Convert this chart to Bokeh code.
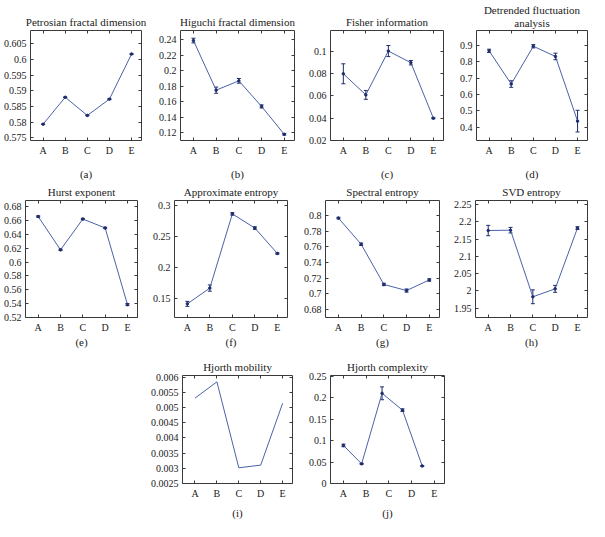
from bokeh.plotting import figure
from bokeh.models import (Range1d, FixedTicker, LinearAxis, CustomJSTickFormatter,
                          Whisker, TeeHead, ColumnDataSource, Spacer)
from bokeh.layouts import row, column
from bokeh.embed import file_html
from bokeh.resources import INLINE

categories = ["A", "B", "C", "D", "E"]
positions = [1, 2, 3, 4, 5]

petrosian = [0.5793, 0.5879, 0.5821, 0.5873, 0.6017]
petrosian_err = [0.0001, 0.0001, 0.0001, 0.0001, 0.0001]
petrosian_ticks = [0.575, 0.58, 0.585, 0.59, 0.595, 0.6, 0.605]

higuchi = [0.239, 0.175, 0.187, 0.154, 0.118]
higuchi_err = [0.003, 0.004, 0.003, 0.002, 0.001]
higuchi_ticks = [0.12, 0.14, 0.16, 0.18, 0.2, 0.22, 0.24]

fisher = [0.080, 0.061, 0.1005, 0.090, 0.040]
fisher_err = [0.009, 0.004, 0.005, 0.002, 0.0005]
fisher_ticks = [0.02, 0.04, 0.06, 0.08, 0.1]

dfa = [0.866, 0.664, 0.894, 0.832, 0.438]
dfa_err = [0.01, 0.02, 0.01, 0.02, 0.066]
dfa_ticks = [0.4, 0.5, 0.6, 0.7, 0.8, 0.9]

hurst = [0.6658, 0.6177, 0.6622, 0.6493, 0.5386]
hurst_err = [0.001, 0.001, 0.001, 0.001, 0.0015]
hurst_ticks = [0.52, 0.54, 0.56, 0.58, 0.6, 0.62, 0.64, 0.66, 0.68]

apen = [0.1419, 0.1673, 0.2865, 0.2637, 0.2229]
apen_err = [0.004, 0.005, 0.002, 0.002, 0.001]
apen_ticks = [0.15, 0.2, 0.25, 0.3]

spectral = [0.7966, 0.7633, 0.7121, 0.7043, 0.7178]
spectral_err = [0.001, 0.0015, 0.0015, 0.002, 0.0015]
spectral_ticks = [0.68, 0.7, 0.72, 0.74, 0.76, 0.78, 0.8]

svd = [2.175, 2.176, 1.983, 2.006, 2.182]
svd_err = [0.015, 0.008, 0.02, 0.01, 0.004]
svd_ticks = [1.95, 2.0, 2.05, 2.1, 2.15, 2.2, 2.25]

mobility = [0.00532, 0.00586, 0.00301, 0.00310, 0.00515]
mobility_ticks = [0.0025, 0.003, 0.0035, 0.004, 0.0045, 0.005, 0.0055, 0.006]

complexity = [0.0888, 0.0458, 0.2106, 0.1712, 0.0408]
complexity_err = [0.003, 0.001, 0.015, 0.003, 0.0005]
complexity_x = [1, 1.8, 2.7, 3.6, 4.47]
complexity_ticks = [0, 0.05, 0.1, 0.15, 0.2, 0.25]

FONT = "Liberation Serif"
LINE = "#4a62a8"
DARK = "#1f2c6b"
FRAME = "#3a3a3a"
TEXT = "#1a1a1a"

EMPTY = CustomJSTickFormatter(code="return '';")


def hidden_axis(ticks, label=None, standoff=3):
    ax = LinearAxis(ticker=FixedTicker(ticks=ticks), formatter=EMPTY,
                    major_label_text_font_size="10px",
                    major_label_standoff=0, axis_line_color=None,
                    major_tick_in=3, major_tick_out=0, major_tick_line_color=FRAME,
                    minor_tick_line_color=None)
    if label is not None:
        ax.axis_label = label
        ax.axis_label_standoff = standoff
        ax.axis_label_text_font = FONT
        ax.axis_label_text_font_size = "11px"
        ax.axis_label_text_font_style = "normal"
        ax.axis_label_text_color = TEXT
    return ax


def panel(titles, xs, ys, errs, yticks, ylo, yhi, tag, mb, fw, fh, lab_standoff):
    l, r, t, b = mb
    p = figure(width=l + fw + r, height=t + fh + b,
               min_border_left=l, min_border_right=r, min_border_top=t, min_border_bottom=b,
               x_range=Range1d(0.43, 5.45), y_range=Range1d(ylo, yhi),
               output_backend="svg", toolbar_location=None)
    p.grid.visible = False
    p.outline_line_color = FRAME
    p.outline_line_width = 1
    p.background_fill_color = "white"
    p.border_fill_color = "white"

    xa = p.xaxis[0]
    xa.ticker = FixedTicker(ticks=positions)
    xa.major_label_overrides = {i + 1: c for i, c in enumerate(categories)}
    xa.axis_label = tag
    xa.axis_label_standoff = lab_standoff
    xa.axis_label_text_font = FONT
    xa.axis_label_text_font_size = "11px"
    xa.axis_label_text_font_style = "normal"
    xa.axis_label_text_color = TEXT

    ya = p.yaxis[0]
    ya.ticker = FixedTicker(ticks=yticks)
    ya.formatter = CustomJSTickFormatter(code="return String(tick);")

    for ax in (xa, ya):
        ax.axis_line_color = None
        ax.major_tick_in = 3
        ax.major_tick_out = 0
        ax.major_tick_line_color = FRAME
        ax.minor_tick_line_color = None
        ax.major_label_text_font = FONT
        ax.major_label_text_font_size = "10px"
        ax.major_label_text_color = TEXT
        ax.major_label_standoff = 4

    p.add_layout(hidden_axis(yticks), "right")
    # title lines as labels of top axes (nearest line first)
    lines = list(reversed(titles))
    p.add_layout(hidden_axis(positions, lines[0], 3 if len(lines) == 1 else 2), "above")
    for extra in lines[1:]:
        p.add_layout(hidden_axis([], extra, -2), "above")

    p.line(xs, ys, line_color=LINE, line_width=1)
    if errs is not None:
        src = ColumnDataSource(dict(x=xs, y=ys,
                                    upper=[v + e for v, e in zip(ys, errs)],
                                    lower=[v - e for v, e in zip(ys, errs)]))
        p.add_layout(Whisker(base="x", upper="upper", lower="lower", source=src,
                             line_color=DARK, line_width=1,
                             upper_head=TeeHead(size=4, line_color=DARK, line_width=1),
                             lower_head=TeeHead(size=4, line_color=DARK, line_width=1)))
        p.scatter("x", "y", source=src, size=2.5, color=DARK)
    return p


fa = panel(["Petrosian fractal dimension"], positions, petrosian, petrosian_err, petrosian_ticks,
           0.5741, 0.6092, "(a)", (28, 6, 25, 39), 113, 118, 9)
fb = panel(["Higuchi fractal dimension"], positions, higuchi, higuchi_err, higuchi_ticks,
           0.110, 0.252, "(b)", (33, 3, 25, 39), 114, 118, 9)
fc = panel(["Fisher information"], positions, fisher, fisher_err, fisher_ticks,
           0.0199, 0.119, "(c)", (33, 4, 25, 39), 113, 118, 9)
fd = panel(["Detrended fluctuation", "analysis"], positions, dfa, dfa_err, dfa_ticks,
           0.32, 0.99, "(d)", (29, 2, 26, 39), 111, 117, 9)

fe = panel(["Hurst exponent"], positions, hurst, hurst_err, hurst_ticks,
           0.5199, 0.689, "(e)", (24, 10, 18, 40), 113, 117, 0)
ff = panel(["Approximate entropy"], positions, apen, apen_err, apen_ticks,
           0.12, 0.308, "(f)", (27, 10, 18, 40), 113, 117, 0)
fg = panel(["Spectral entropy"], positions, spectral, spectral_err, spectral_ticks,
           0.670, 0.819, "(g)", (28, 8, 18, 40), 114, 117, 0)
fh = panel(["SVD entropy"], positions, svd, svd_err, svd_ticks,
           1.923, 2.262, "(h)", (28, 2, 18, 40), 112, 117, 0)

fi = panel(["Hjorth mobility"], positions, mobility, None, mobility_ticks,
           0.00249, 0.00607, "(i)", (32, 5, 18, 29), 113, 117, 5)
fj = panel(["Hjorth complexity"], complexity_x, complexity, complexity_err, complexity_ticks,
           -0.0001, 0.2522, "(j)", (33, 8, 18, 29), 114, 117, 5)

layout = column(row(fa, fb, fc, fd), row(fe, ff, fg, fh),
                row(Spacer(width=147, height=164), fi, fj))

open("out.html", "w").write(file_html(layout, INLINE))
